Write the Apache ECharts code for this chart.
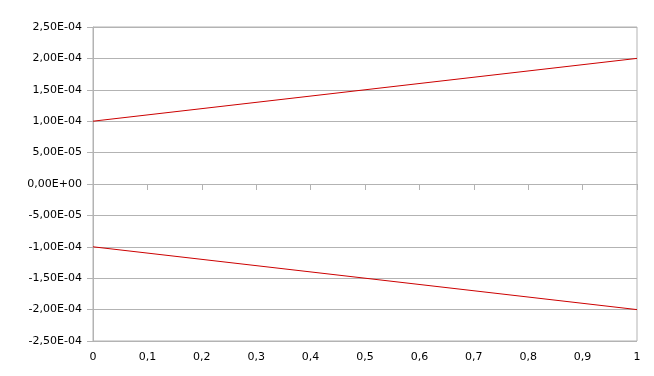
<!DOCTYPE html>
<html>
<head>
<meta charset="utf-8">
<script src="https://cdn.jsdelivr.net/npm/echarts@6/dist/echarts.min.js"></script>
<style>
  html, body { margin: 0; padding: 0; background: #fff; }
  #chart { width: 654px; height: 376px; }
</style>
</head>
<body>
<div id="chart"></div>
<script>
// data
var xValues = [0, 1];
var upperValues = [1e-4, 2e-4];
var lowerValues = [-1e-4, -2e-4];
var yMin = -2.5e-4, yMax = 2.5e-4, yStep = 5e-5;

function sciLabel(v) {
  var s = Number(v).toExponential(2); // e.g. "2.50e-4"
  var parts = s.split('e');
  var mant = parts[0].replace('.', ',');
  var exp = parseInt(parts[1], 10);
  if (Math.abs(Number(v)) < 1e-12) { mant = '0,00'; exp = 0; }
  var sign = exp < 0 ? '-' : '+';
  var e = Math.abs(exp);
  return mant + 'E' + sign + (e < 10 ? '0' + e : e);
}

function pairs(xs, ys) {
  return xs.map(function (x, i) { return [x, ys[i]]; });
}

var gridColor = '#b3b3b3';
var myChart = echarts.init(document.getElementById('chart'));
var option = {
  animation: false,
  textStyle: { fontFamily: 'DejaVu Sans' },
  grid: {
    left: 93, right: 17, top: 27, bottom: 35,
    show: true, borderColor: gridColor, borderWidth: 1
  },
  xAxis: [
    {
      type: 'value', min: 0, max: 1, interval: 0.1,
      position: 'bottom',
      axisLine: { show: false, onZero: false },
      axisTick: { show: false },
      splitLine: { show: false },
      axisLabel: {
        color: '#000', fontSize: 11, fontFamily: 'DejaVu Sans', margin: 11,
        formatter: function (v) { return String(Math.round(v * 10) / 10).replace('.', ','); }
      }
    },
    {
      type: 'value', min: 0, max: 1, interval: 0.1,
      position: 'bottom',
      axisLine: { show: true, onZero: true, lineStyle: { color: gridColor, width: 1 } },
      axisTick: { show: true, length: 6, lineStyle: { color: gridColor } },
      axisLabel: { show: false },
      splitLine: { show: false }
    }
  ],
  yAxis: {
    type: 'value', min: yMin, max: yMax, interval: yStep,
    axisLine: { show: true, lineStyle: { color: gridColor } },
    axisTick: { show: true, length: 6, lineStyle: { color: gridColor } },
    splitLine: { show: true, lineStyle: { color: gridColor, width: 1 } },
    axisLabel: {
      color: '#000', fontSize: 11, fontFamily: 'DejaVu Sans', margin: 11,
      formatter: function (v) { return sciLabel(Math.round(v / yStep) * yStep); }
    }
  },
  series: [
    {
      type: 'line', xAxisIndex: 1, data: pairs(xValues, upperValues),
      symbol: 'none', lineStyle: { color: '#cc0000', width: 1 }
    },
    {
      type: 'line', xAxisIndex: 1, data: pairs(xValues, lowerValues),
      symbol: 'none', lineStyle: { color: '#cc0000', width: 1 }
    }
  ]
};
myChart.setOption(option);
</script>
</body>
</html>
